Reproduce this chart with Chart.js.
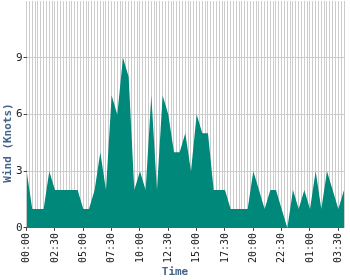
<!DOCTYPE html>
<html>
<head>
<meta charset="utf-8">
<script src="https://cdn.jsdelivr.net/npm/chart.js@4"></script>
<style>
  body { margin: 0; background: #fff; }
</style>
</head>
<body>
<canvas id="windChart" width="350" height="280"></canvas>
<script>

// half-hourly readings, 00:00 through 04:00 next day
const wind = [3, 1, 1, 1, 3, 2, 2, 2, 2, 2, 1, 1, 2, 4, 2, 7, 6, 9, 8, 2,
    3, 2, 7, 2, 7, 6, 4, 4, 5, 3, 6, 5, 5, 2, 2, 2, 1, 1, 1, 1,
    3, 2, 1, 2, 2, 1, 0, 2, 1, 2, 1, 3, 1, 3, 2, 1, 2];
const tickLabels = ['00:00', '02:30', '05:00', '07:30', '10:00', '12:30', '15:00', '17:30', '20:00', '22:30', '01:00', '03:30'];
const yTicks = [0, 3, 6, 9];
const xTitle = 'Time';
const yTitle = 'Wind (Knots)';

const points = wind.map((v, i) => ({ x: i * 0.5, y: v }));

const isLabelTick = v => Math.abs(v / 2.5 - Math.round(v / 2.5)) < 1e-6;

const axisTitles = {
    id: 'axisTitles',
    afterDraw(chart) {
        const c = chart.ctx;
        c.save();
        c.font = 'bold 11px "DejaVu Sans Mono"';
        c.fillStyle = '#44648a';
        c.textAlign = 'center';
        c.textBaseline = 'middle';
        c.fillText(xTitle, chart.width / 2, 272);
        c.translate(8, chart.height / 2 + 3);
        c.rotate(-Math.PI / 2);
        c.fillText(yTitle, 0, 0);
        c.restore();
    }
};

new Chart(document.getElementById('windChart'), {
    type: 'line',
    data: {
        datasets: [{
            data: points,
            fill: 'origin',
            backgroundColor: '#00887a',
            borderWidth: 0,
            pointRadius: 0,
            tension: 0
        }]
    },
    options: {
        responsive: false,
        animation: false,
        layout: {
            padding: { left: 15, right: 6, top: 1, bottom: 15 }
        },
        scales: {
            x: {
                type: 'linear',
                min: 0,
                max: 28,
                border: { display: false },
                afterFit: scale => {
                    scale.paddingLeft = 0;
                    scale.paddingRight = 0;
                },
                grid: {
                    color: '#cccccc',
                    tickLength: 3,
                    tickColor: ctx => isLabelTick(ctx.tick.value) ? '#444' : 'rgba(0,0,0,0)'
                },
                ticks: {
                    stepSize: 0.25,
                    autoSkip: false,
                    minRotation: 90,
                    maxRotation: 90,
                    padding: 2,
                    color: '#222',
                    font: { family: 'DejaVu Sans Mono', size: 10 },
                    callback: function (value) {
                        return isLabelTick(value) ? tickLabels[Math.round(value / 2.5)] : '';
                    }
                }
            },
            y: {
                min: 0,
                max: 12,
                border: { display: false },
                afterFit: scale => {
                    scale.paddingTop = 0;
                    scale.paddingBottom = 0;
                },
                grid: {
                    color: '#cccccc',
                    tickLength: 3,
                    tickColor: '#444'
                },
                ticks: {
                    stepSize: 3,
                    padding: 1,
                    color: '#222',
                    font: { family: 'DejaVu Sans Mono', size: 11 },
                    callback: function (value) {
                        return yTicks.includes(value) ? String(value) : null;
                    }
                }
            }
        },
        plugins: {
            legend: { display: false },
            tooltip: { enabled: false }
        }
    },
    plugins: [axisTitles]
});

</script>
</body>
</html>
